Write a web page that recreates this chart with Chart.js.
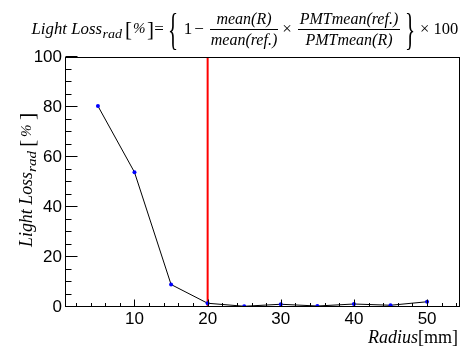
<!DOCTYPE html>
<html><head><meta charset="utf-8">
<script src="https://cdn.jsdelivr.net/npm/chart.js@4"></script>
<style>html,body{margin:0;padding:0;background:#fff;overflow:hidden}#wrap{width:464px;height:347px;position:relative}</style>
</head><body><div id="wrap"><canvas id="c" width="464" height="347"></canvas></div>
<script>
// ---- data ----
const radius = [5, 10, 15, 20, 25, 30, 35, 40, 45, 50];
const lightLoss = [80.4, 53.9, 9.0, 1.5, 0.3, 1.1, 0.4, 1.2, 0.7, 2.1];
const cutRadius = 20;
const xTickLabels = [10, 20, 30, 40, 50];
const yTickLabels = [0, 20, 40, 60, 80, 100];
const xRange = [0.5, 54.5];
const yRange = [0, 100];
const xMinorStep = 2;
const yMinorStep = 5;

const SERIF = '"Liberation Serif", "Times New Roman", serif';
const SANS = '"Liberation Sans", Arial, sans-serif';

function txt(ctx, s, x, y, font, align) {
  ctx.font = font; ctx.textAlign = align || 'left'; ctx.fillText(s, x, y);
  return ctx.measureText(s).width;
}
// draw text stretched horizontally to span [x0, x1]
function fit(ctx, s, x0, x1, y, font) {
  ctx.font = font; ctx.textAlign = 'left';
  const w = ctx.measureText(s).width;
  ctx.save(); ctx.translate(x0, y); ctx.scale((x1 - x0) / w, 1);
  ctx.fillText(s, 0, 0); ctx.restore();
}

const decor = {
  id: 'decor',
  afterDraw(chart) {
    const ctx = chart.ctx, a = chart.chartArea;
    const xs = chart.scales.x, ys = chart.scales.y;
    ctx.save();
    ctx.strokeStyle = '#000'; ctx.lineWidth = 1;
    // frame
    ctx.strokeRect(a.left + 0.5, a.top + 0.5, a.right - a.left - 1, a.bottom - a.top - 1);
    // ticks (inward)
    ctx.beginPath();
    for (let v = Math.ceil(xRange[0] / xMinorStep) * xMinorStep; v <= xRange[1]; v += xMinorStep) {
      const major = xTickLabels.includes(v);
      const px = Math.round(xs.getPixelForValue(v)) + 0.5;
      ctx.moveTo(px, a.bottom - 0.5);
      ctx.lineTo(px, a.bottom - 0.5 - (major ? 7 : 3.5));
    }
    for (let v = yRange[0]; v <= yRange[1]; v += yMinorStep) {
      const major = yTickLabels.includes(v);
      const py = Math.round(ys.getPixelForValue(v)) - 0.5;
      ctx.moveTo(a.left + 0.5, py);
      ctx.lineTo(a.left + 0.5 + (major ? 12 : 6), py);
    }
    ctx.stroke();

    ctx.fillStyle = '#000';
    ctx.textBaseline = 'alphabetic';
    // x title
    let w = txt(ctx, '[mm]', 458, 343, '18px ' + SERIF, 'right');
    txt(ctx, 'Radius', 458 - w, 343, 'italic 18px ' + SERIF, 'right');

    // y title (rotated); local x runs from bottom (y=247) upward
    ctx.save();
    ctx.translate(32, 247);
    ctx.rotate(-Math.PI / 2);
    fit(ctx, 'Light Loss', 0, 75, 0, 'italic 18px ' + SERIF);
    fit(ctx, 'rad', 75, 96, 4, 'italic 13px ' + SERIF);
    txt(ctx, '[', 100, 2, '22px ' + SERIF);
    txt(ctx, '%', 110, -1, 'italic 15px ' + SERIF);
    txt(ctx, ']', 127, 2, '22px ' + SERIF);
    ctx.restore();

    // top formula
    const base = 34;
    fit(ctx, 'Light Loss', 31.5, 102, base, 'italic 16.5px ' + SERIF);
    fit(ctx, 'rad', 102.5, 122, base + 3.5, 'italic 12px ' + SERIF);
    txt(ctx, '[', 125, base + 2, '21px ' + SERIF);
    txt(ctx, '%', 133, base - 1, 'italic 15px ' + SERIF);
    txt(ctx, ']', 147, base + 2, '21px ' + SERIF);
    txt(ctx, '=', 159, base, '17px ' + SERIF, 'center');
    const brace = (ch, cx) => {
      ctx.save(); ctx.translate(cx, 31); ctx.scale(1, 2.1);
      ctx.textBaseline = 'middle';
      txt(ctx, ch, 0, 0.5, '21px ' + SERIF, 'center');
      ctx.restore();
    };
    brace('{', 173);
    brace('}', 410);
    txt(ctx, '1', 188, base, '17px ' + SERIF, 'center');
    txt(ctx, '\u2212', 199, base, '17px ' + SERIF, 'center');
    // fraction 1
    txt(ctx, 'mean(R)', 244, 24, 'italic 16px ' + SERIF, 'center');
    txt(ctx, 'mean(ref.)', 244, 45, 'italic 16px ' + SERIF, 'center');
    ctx.beginPath(); ctx.moveTo(210, 29.5); ctx.lineTo(278, 29.5); ctx.stroke();
    txt(ctx, '\u00d7', 287, base, '17px ' + SERIF, 'center');
    // fraction 2
    txt(ctx, 'PMTmean(ref.)', 349, 24, 'italic 16px ' + SERIF, 'center');
    txt(ctx, 'PMTmean(R)', 349, 45, 'italic 16px ' + SERIF, 'center');
    ctx.beginPath(); ctx.moveTo(298, 29.5); ctx.lineTo(400, 29.5); ctx.stroke();
    txt(ctx, '\u00d7 100', 420, base, '16.5px ' + SERIF, 'left');
    ctx.restore();
  }
};

new Chart(document.getElementById('c'), {
  type: 'scatter',
  data: {
    datasets: [
      {
        data: radius.map((r, i) => ({ x: r, y: lightLoss[i] })),
        showLine: true, borderColor: '#000', borderWidth: 1,
        pointRadius: 2, pointBackgroundColor: '#0000ff', pointBorderColor: '#0000ff',
        pointBorderWidth: 0, order: 1
      },
      {
        data: [{ x: cutRadius, y: yRange[0] }, { x: cutRadius, y: yRange[1] }],
        showLine: true, borderColor: '#ff0000', borderWidth: 2, pointRadius: 0, order: 2
      }
    ]
  },
  options: {
    responsive: false, animation: false, devicePixelRatio: 1,
    layout: { padding: { top: 57, right: 1, left: 0, bottom: 0 } },
    plugins: { legend: { display: false }, tooltip: { enabled: false } },
    scales: {
      x: {
        type: 'linear', min: xRange[0], max: xRange[1],
        afterBuildTicks: s => { s.ticks = xTickLabels.map(v => ({ value: v })); },
        afterFit: s => { s.height = 40; },
        grid: { display: false, drawTicks: false }, border: { display: false },
        ticks: { font: { family: SANS, size: 17 }, color: '#000', padding: 2, maxRotation: 0, autoSkip: false }
      },
      y: {
        type: 'linear', min: yRange[0], max: yRange[1],
        afterBuildTicks: s => { s.ticks = yTickLabels.map(v => ({ value: v })); },
        afterFit: s => { s.width = 65; },
        grid: { display: false, drawTicks: false }, border: { display: false },
        ticks: { font: { family: SANS, size: 17 }, color: '#000', padding: 3, autoSkip: false }
      }
    }
  },
  plugins: [decor]
});
</script></body></html>
